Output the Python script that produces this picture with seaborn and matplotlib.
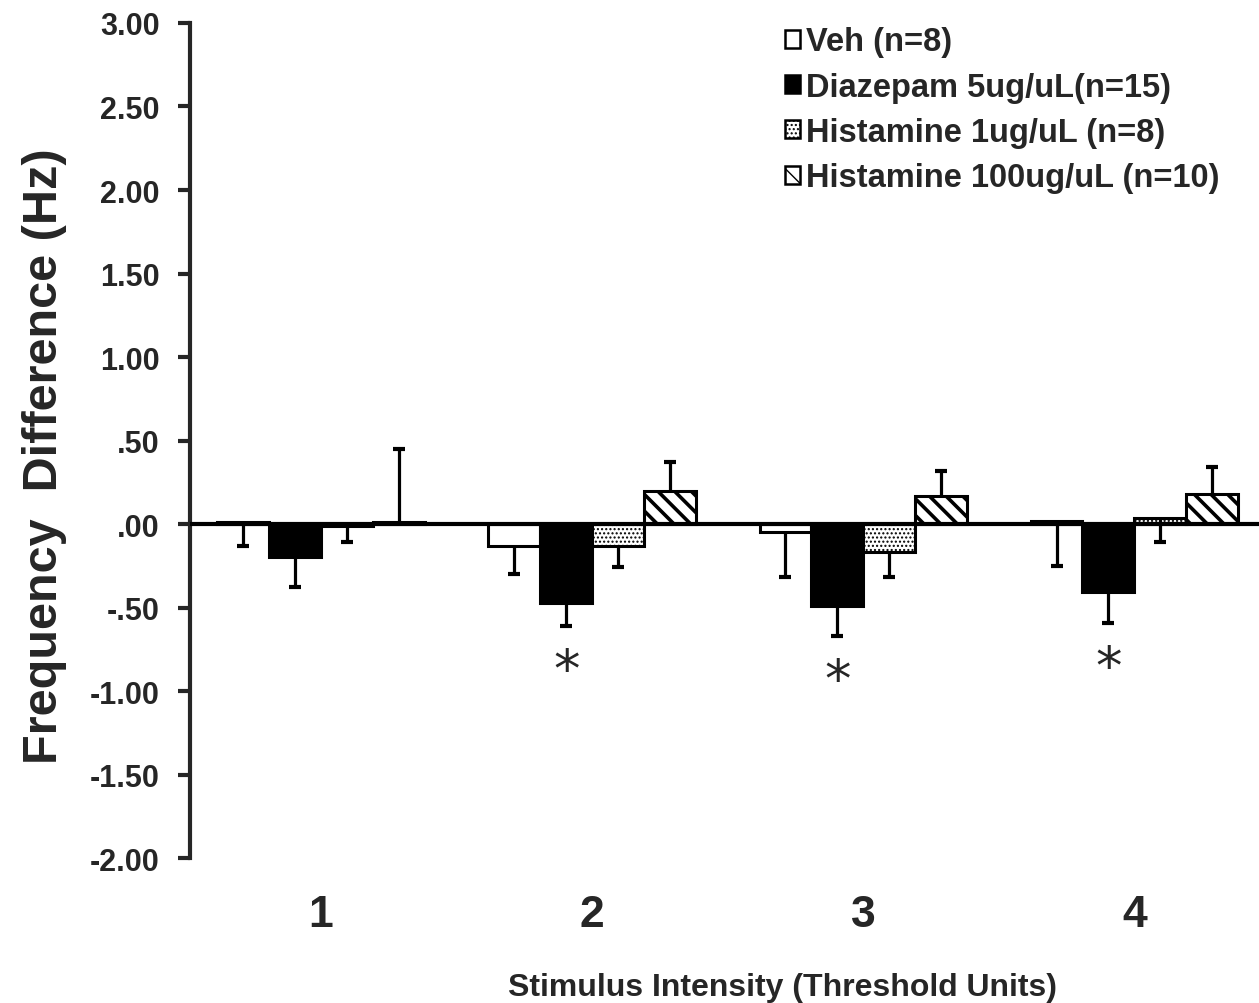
import numpy as np
import pandas as pd
import matplotlib
matplotlib.use("Agg")
import matplotlib.pyplot as plt
from matplotlib.patches import Patch
import seaborn as sns

# ---- data -------------------------------------------------------------
intensities = ["1", "2", "3", "4"]
groups = ["Veh (n=8)", "Diazepam 5ug/uL(n=15)",
          "Histamine 1ug/uL (n=8)", "Histamine 100ug/uL (n=10)"]

veh_mean = [0.01, -0.13, -0.05, 0.02]
diaz_mean = [-0.20, -0.47, -0.49, -0.41]
hist1_mean = [-0.01, -0.13, -0.17, 0.035]
hist100_mean = [0.01, 0.20, 0.17, 0.18]

# one-sided SEM bars (lower, upper)
veh_err_lo = [0.14, 0.17, 0.27, 0.27]
diaz_err_lo = [0.18, 0.14, 0.18, 0.18]
hist1_err_lo = [0.10, 0.13, 0.15, 0.145]
hist100_err_hi = [0.44, 0.17, 0.15, 0.16]

significant = [False, True, True, True]   # Diazepam vs vehicle

yticks = [3.0, 2.5, 2.0, 1.5, 1.0, 0.5, 0.0, -0.5, -1.0, -1.5, -2.0]
ytick_labels = ["3.00", "2.50", "2.00", "1.50", "1.00", ".50", ".00",
                "-.50", "-1.00", "-1.50", "-2.00"]

means = [veh_mean, diaz_mean, hist1_mean, hist100_mean]
zeros = [0.0] * len(intensities)
err_lo = [veh_err_lo, diaz_err_lo, hist1_err_lo, zeros]
err_hi = [zeros, zeros, zeros, hist100_err_hi]

df = pd.DataFrame({
    "intensity": np.tile(intensities, len(groups)),
    "group": np.repeat(groups, len(intensities)),
    "value": np.concatenate(means),
})

# ---- style ------------------------------------------------------------
sns.set_style("ticks")
plt.rcParams["font.family"] = ["Liberation Sans", "DejaVu Sans"]
plt.rcParams["font.weight"] = "bold"

faces = ["white", "black", "white", "white"]
hatches = [None, None, "....", "\\\\"]
hatch_lw = [1.0, 1.0, 1.0, 2.6]

fig = plt.figure(figsize=(12.59, 10.04), dpi=100)
ax = fig.add_axes([0.151, 0.1444, 0.849, 0.8317])

sns.barplot(data=df, x="intensity", y="value", hue="group",
            hue_order=groups, order=intensities, errorbar=None,
            width=0.765, palette=faces, edgecolor="black", linewidth=2.2,
            legend=False, ax=ax, zorder=2)

for cont, fc, h, hlw in zip(ax.containers, faces, hatches, hatch_lw):
    for bar in cont:
        bar.set_facecolor(fc)
        bar.set_edgecolor("black")
        if h:
            bar.set_hatch(h)
            if hasattr(bar, "set_hatch_linewidth"):
                bar.set_hatch_linewidth(hlw)

# one-sided error bars: stem from the bar end plus a cap at the tip
for cont, m, lo, hi in zip(ax.containers, means, err_lo, err_hi):
    for bar, mv, l, h in zip(cont, m, lo, hi):
        x = bar.get_x() + bar.get_width() / 2
        for tip in (mv - l, mv + h):
            if tip != mv:
                ax.plot([x, x], [mv, tip], color="black", lw=2.3,
                        solid_capstyle="butt", zorder=3)
                ax.plot([x], [tip], marker="_", ms=8.5, mew=3,
                        color="black", zorder=3)

# significance markers under Diazepam bars
diaz_bars = ax.containers[1]
for bar, m, e, sig in zip(diaz_bars, diaz_mean, diaz_err_lo, significant):
    if sig:
        ax.annotate("*", xy=(bar.get_x() + bar.get_width() / 2, m - e),
                    xytext=(0, -14), textcoords="offset points",
                    ha="center", va="top", fontsize=38,
                    fontweight="normal", family="DejaVu Sans")

ax.axhline(0, color="black", lw=3, zorder=4)

ax.set_ylim(-2.0, 3.0)
ax.set_xlim(-0.483, 3.46)
ax.set_yticks(yticks)
ax.set_yticklabels(ytick_labels, fontsize=22, fontweight="bold")
ax.tick_params(axis="y", direction="out", length=9, width=3, pad=13)
ax.tick_params(axis="x", length=0, pad=26, labelsize=32)
for lbl in ax.get_xticklabels():
    lbl.set_fontweight("bold")

for s in ["top", "right", "bottom"]:
    ax.spines[s].set_visible(False)
ax.spines["left"].set_linewidth(3)

ax.set_xlabel("Stimulus Intensity (Threshold Units)", fontsize=23,
              fontweight="bold")
ax.xaxis.set_label_coords(0.554, -0.136)
ax.set_ylabel("Frequency  Difference (Hz)", fontsize=35, fontweight="bold")
ax.yaxis.set_label_coords(-0.1155, 0.483)

handles = []
for fc, h in zip(faces, hatches):
    handles.append(Patch(facecolor=fc, edgecolor="black", linewidth=1.8,
                         hatch=h))
leg = ax.legend(handles, groups, loc="upper left",
                bbox_to_anchor=(0.5566, 0.996), frameon=False,
                fontsize=23.5, handlelength=0.47, handleheight=0.47,
                handletextpad=0.16, labelspacing=0.44, borderpad=0,
                borderaxespad=0)
for t in leg.get_texts():
    t.set_fontweight("bold")

fig.savefig("out.png", dpi=100)
